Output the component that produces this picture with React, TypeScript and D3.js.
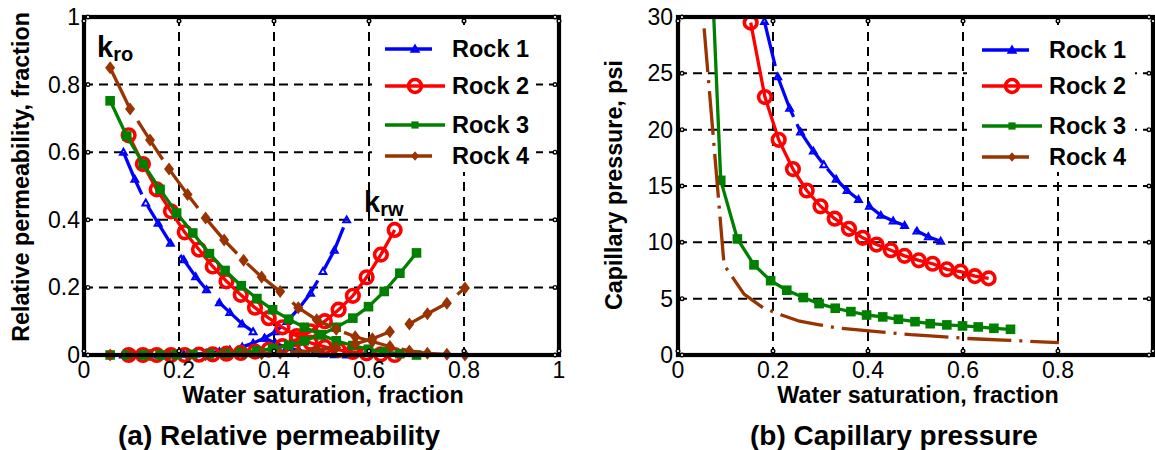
import React from 'react';
import * as d3 from 'd3';

// ---------- data ----------
// Rock 1 (blue)
const sw1 = [0.083, 0.107, 0.13, 0.156, 0.182, 0.21, 0.235, 0.258, 0.285, 0.307, 0.333, 0.356, 0.38, 0.403, 0.427, 0.453, 0.477, 0.503, 0.527, 0.553];
const kro1 = [0.6, 0.52, 0.45, 0.39, 0.331, 0.282, 0.232, 0.193, 0.155, 0.126, 0.092, 0.069, 0.05, 0.035, 0.022, 0.013, 0.007, 0.003, 0.001, 0];
const krw1 = [0, 0, 0, 0, 0.001, 0.002, 0.003, 0.005, 0.01, 0.015, 0.024, 0.035, 0.05, 0.069, 0.099, 0.139, 0.183, 0.247, 0.31, 0.4];
const pcSw1 = [0.182, 0.21, 0.235, 0.258, 0.285, 0.307, 0.333, 0.356, 0.38, 0.403, 0.427, 0.453, 0.477, 0.503, 0.527, 0.553];
const pc1 = [29.6, 24.7, 21.9, 19.8, 18.1, 16.9, 15.6, 14.6, 13.8, 13.2, 12.4, 11.9, 11.5, 11.0, 10.5, 10.1];

// Rock 2 (red)
const sw2 = [0.094, 0.124, 0.153, 0.183, 0.212, 0.242, 0.271, 0.3, 0.33, 0.36, 0.389, 0.418, 0.448, 0.477, 0.507, 0.536, 0.566, 0.595, 0.625, 0.654];
const kro2 = [0.65, 0.565, 0.49, 0.425, 0.363, 0.312, 0.262, 0.218, 0.178, 0.14, 0.109, 0.082, 0.056, 0.036, 0.024, 0.015, 0.009, 0.005, 0.002, 0];
const krw2 = [0, 0, 0, 0, 0, 0.001, 0.002, 0.004, 0.006, 0.01, 0.016, 0.026, 0.046, 0.07, 0.1, 0.134, 0.175, 0.23, 0.297, 0.37];
const pcSw2 = [0.153, 0.183, 0.212, 0.242, 0.271, 0.3, 0.33, 0.36, 0.389, 0.418, 0.448, 0.477, 0.507, 0.536, 0.566, 0.595, 0.625, 0.654];
const pc2 = [29.5, 22.9, 19.1, 16.5, 14.6, 13.2, 12.1, 11.2, 10.4, 9.8, 9.3, 8.8, 8.4, 8.1, 7.6, 7.4, 7.0, 6.8];

// Rock 3 (green)
const sw3 = [0.055, 0.09, 0.125, 0.16, 0.195, 0.229, 0.264, 0.297, 0.331, 0.364, 0.397, 0.431, 0.464, 0.499, 0.531, 0.566, 0.599, 0.632, 0.665, 0.7];
const kro3 = [0.752, 0.648, 0.565, 0.49, 0.42, 0.361, 0.3, 0.25, 0.205, 0.167, 0.134, 0.106, 0.082, 0.06, 0.042, 0.028, 0.017, 0.009, 0.004, 0];
const krw3 = [0, 0, 0, 0, 0.001, 0.002, 0.003, 0.005, 0.008, 0.012, 0.019, 0.029, 0.042, 0.06, 0.082, 0.109, 0.143, 0.188, 0.242, 0.302];
const pcSw3 = sw3;
const pc3 = [50, 15.5, 10.3, 8.0, 6.6, 5.75, 5.1, 4.56, 4.15, 3.85, 3.55, 3.38, 3.17, 2.96, 2.78, 2.67, 2.58, 2.49, 2.37, 2.28];

// Rock 4 (brown)
const sw4 = [0.055, 0.097, 0.139, 0.179, 0.218, 0.256, 0.295, 0.336, 0.374, 0.413, 0.451, 0.49, 0.531, 0.571, 0.607, 0.644, 0.685, 0.723, 0.764, 0.802];
const kro4 = [0.85, 0.728, 0.636, 0.55, 0.475, 0.405, 0.34, 0.28, 0.231, 0.188, 0.14, 0.104, 0.076, 0.054, 0.04, 0.025, 0.012, 0.005, 0.002, 0];
const krw4 = [0, 0, 0, 0, 0, 0.001, 0.002, 0.003, 0.004, 0.006, 0.009, 0.014, 0.022, 0.033, 0.048, 0.069, 0.092, 0.122, 0.153, 0.198];
const pcSw4 = sw4;
const pc4 = [29, 8.0, 5.4, 4.2, 3.55, 3.0, 2.7, 2.4, 2.25, 2.1, 1.95, 1.8, 1.7, 1.58, 1.47, 1.4, 1.32, 1.25, 1.17, 1.1];

const rockNames = ['Rock 1', 'Rock 2', 'Rock 3', 'Rock 4'];
const rockColors = ['#0000FF', '#FF0000', '#008000', '#993300'];

const xTicks = [0, 0.2, 0.4, 0.6, 0.8, 1];
const xTickLabels = ['0', '0.2', '0.4', '0.6', '0.8', '1'];
const xTickLabelsB = ['0', '0.2', '0.4', '0.6', '0.8'];
const krTicks = [0, 0.2, 0.4, 0.6, 0.8, 1];
const krTickLabels = ['0', '0.2', '0.4', '0.6', '0.8', '1'];
const pcTicks = [0, 5, 10, 15, 20, 25, 30];
const pcTickLabels = ['0', '5', '10', '15', '20', '25', '30'];

// ---------- layout ----------
const W = 1155;
const H = 450;
const A = { l: 84, r: 559, t: 17, b: 355 };
const B = { l: 678, r: 1153, t: 17, b: 355 };
const FONT = '"Liberation Sans", Arial, Helvetica, sans-serif';
const TICK_FS = 23;
const LABEL_FS = 23.3;
const TITLE_FS = 28;

const xA = d3.scaleLinear().domain([0, 1]).range([A.l, A.r]);
const yA = d3.scaleLinear().domain([0, 1]).range([A.b, A.t]);
const xB = d3.scaleLinear().domain([0, 1]).range([B.l, B.r]);
const yB = d3.scaleLinear().domain([0, 30]).range([B.b, B.t]);

type MarkerKind = 'tri' | 'circle' | 'square' | 'diamond' | 'none';

function Marker({ kind, x, y, color, big = true }: { kind: MarkerKind; x: number; y: number; color: string; big?: boolean }) {
  if (kind === 'tri') {
    const s = big ? 3.4 : 3.6;
    return <path d={`M${x},${y - s}L${x + s},${y + s * 0.75}L${x - s},${y + s * 0.75}Z`} fill={big ? 'none' : color} stroke={color} strokeWidth={2} />;
  }
  if (kind === 'circle') {
    const r = big ? 6.3 : 6.5;
    return <circle cx={x} cy={y} r={r} fill="none" stroke={color} strokeWidth={3.6} />;
  }
  if (kind === 'square') {
    const s = big ? 4.8 : 3.6;
    return <rect x={x - s} y={y - s} width={2 * s} height={2 * s} fill={color} />;
  }
  if (kind === 'diamond') {
    const h = big ? 6.5 : 4.8;
    const w = big ? 5 : 4;
    return <path d={`M${x},${y - h}L${x + w},${y}L${x},${y + h}L${x - w},${y}Z`} fill={color} />;
  }
  return null;
}

const markerKinds: MarkerKind[] = ['tri', 'circle', 'square', 'diamond'];

type Series = { sw: number[]; v: number[] };

function Curve({ s, x, y, color, dash, marker, clip, yMax }: {
  s: Series; x: d3.ScaleLinear<number, number>; y: d3.ScaleLinear<number, number>;
  color: string; dash?: string; marker: MarkerKind; clip?: string; yMax?: number;
}) {
  const pts = s.sw.map((w, i) => [w, s.v[i]] as [number, number]);
  const line = d3.line<[number, number]>().x((d) => x(d[0])).y((d) => y(d[1]));
  return (
    <g clipPath={clip}>
      <path d={line(pts) || ''} fill="none" stroke={color} strokeWidth={3.3} strokeDasharray={dash} strokeLinejoin="round" />
      {pts.filter((p) => yMax === undefined || p[1] <= yMax).map((p, i) => (
        <Marker key={i} kind={marker} x={x(p[0])} y={y(p[1])} color={color} />
      ))}
    </g>
  );
}

function Grid({ P, x, y, xt, yt }: { P: typeof A; x: any; y: any; xt: number[]; yt: number[] }) {
  return (
    <g>
      {xt.filter((t) => t > 0 && t < 1).map((t) => (
        <line key={'gx' + t} x1={x(t)} x2={x(t)} y1={P.t} y2={P.b} stroke="#000" strokeWidth={2} strokeDasharray="9,6" />
      ))}
      {yt.filter((t, i) => i > 0 && i < yt.length - 1).map((t) => (
        <line key={'gy' + t} x1={P.l} x2={P.r} y1={y(t)} y2={y(t)} stroke="#000" strokeWidth={2} strokeDasharray="9,6" />
      ))}
    </g>
  );
}

function FrameBox({ P, x, y, xt, yt }: { P: typeof A; x: any; y: any; xt: number[]; yt: number[] }) {
  return (
    <g>
      <rect x={P.l} y={P.t} width={P.r - P.l} height={P.b - P.t} fill="none" stroke="#000" strokeWidth={4.2} />
      {xt.map((t) => (
        <g key={'tx' + t}>
          <circle cx={x(t)} cy={P.b - 4} r={1.8} fill="#fff" stroke="#000" strokeWidth={1.4} />
          <circle cx={x(t)} cy={P.t + 4} r={1.8} fill="#fff" stroke="#000" strokeWidth={1.4} />
        </g>
      ))}
      {yt.map((t) => (
        <g key={'ty' + t}>
          <circle cx={P.l + 4} cy={y(t)} r={1.8} fill="#fff" stroke="#000" strokeWidth={1.4} />
          <circle cx={P.r - 4} cy={y(t)} r={1.8} fill="#fff" stroke="#000" strokeWidth={1.4} />
        </g>
      ))}
    </g>
  );
}

function Legend({ x0, box, rows }: { x0: number; box: { x: number; y: number; w: number; h: number }; rows: number[] }) {
  const lens = [47, 60, 60, 47];
  return (
    <g>
      <rect x={box.x} y={box.y} width={box.w} height={box.h} fill="#fff" />
      {rockNames.map((n, i) => (
        <g key={n}>
          <line x1={x0} x2={x0 + lens[i]} y1={rows[i]} y2={rows[i]} stroke={rockColors[i]} strokeWidth={3.3} />
          <Marker kind={markerKinds[i]} x={x0 + 30} y={rows[i]} color={rockColors[i]} big={false} />
          <text x={x0 + 67} y={rows[i] + 8} fontFamily={FONT} fontWeight="bold" fontSize={23.5} fill="#000">{n}</text>
        </g>
      ))}
    </g>
  );
}

export default function App() {
  const kroS: Series[] = [
    { sw: sw1, v: kro1 }, { sw: sw2, v: kro2 }, { sw: sw3, v: kro3 }, { sw: sw4, v: kro4 },
  ];
  const krwS: Series[] = [
    { sw: sw1, v: krw1 }, { sw: sw2, v: krw2 }, { sw: sw3, v: krw3 }, { sw: sw4, v: krw4 },
  ];
  const pcS: Series[] = [
    { sw: pcSw1, v: pc1 }, { sw: pcSw2, v: pc2 }, { sw: pcSw3, v: pc3 }, { sw: pcSw4, v: pc4 },
  ];
  const dashLeft = ['46,13', undefined, undefined, '46,14'];
  const dashRight = ['46,8', undefined, undefined, '44,8,3,8'];
  const rightMarkers: MarkerKind[] = ['tri', 'circle', 'square', 'none'];

  return (
    <svg width={W} height={H} style={{ position: 'absolute', left: 0, top: 0, background: '#fff' }} fontFamily={FONT}>
      <defs>
        <clipPath id="clipB">
          <rect x={B.l} y={B.t} width={B.r - B.l} height={B.b - B.t} />
        </clipPath>
      </defs>
      <rect x={0} y={0} width={W} height={H} fill="#fff" />

      {/* ---------- panel (a) ---------- */}
      <Grid P={A} x={xA} y={yA} xt={xTicks} yt={krTicks} />
      {[0, 1, 2, 3].map((i) => (
        <g key={'a' + i}>
          <Curve s={kroS[i]} x={xA} y={yA} color={rockColors[i]} dash={dashLeft[i]} marker={markerKinds[i]} />
          <Curve s={krwS[i]} x={xA} y={yA} color={rockColors[i]} dash={dashLeft[i]} marker={markerKinds[i]} />
        </g>
      ))}
      <Legend x0={385} box={{ x: 372, y: 25, w: 164, h: 147 }} rows={[49, 86, 125, 156]} />
      <FrameBox P={A} x={xA} y={yA} xt={xTicks} yt={krTicks} />
      {xTicks.map((t, i) => (
        <text key={'xla' + t} x={xA(t)} y={378} textAnchor="middle" fontSize={TICK_FS} fill="#000">{xTickLabels[i]}</text>
      ))}
      {krTicks.map((t, i) => (
        <text key={'yla' + t} x={80} y={yA(t) + 8} textAnchor="end" fontSize={TICK_FS} fill="#000">{krTickLabels[i]}</text>
      ))}
      <text x={97} y={57} fontSize={29} fontWeight="bold" fill="#000">k<tspan fontSize={20} dy={4}>ro</tspan></text>
      <text x={364} y={212} fontSize={29} fontWeight="bold" fill="#000">k<tspan fontSize={20} dy={4}>rw</tspan></text>
      <text x={323} y={403} textAnchor="middle" fontSize={LABEL_FS} fontWeight="bold" fill="#000">Water saturation, fraction</text>
      <text transform={`translate(29,177) rotate(-90)`} textAnchor="middle" fontSize={LABEL_FS} fontWeight="bold" fill="#000">Relative permeability, fraction</text>
      <text x={118} y={445} fontSize={TITLE_FS} fontWeight="bold" fill="#000">(a) Relative permeability</text>

      {/* ---------- panel (b) ---------- */}
      <Grid P={B} x={xB} y={yB} xt={xTicks} yt={pcTicks} />
      {[0, 1, 2, 3].map((i) => (
        <Curve key={'b' + i} s={pcS[i]} x={xB} y={yB} color={rockColors[i]} dash={dashRight[i]} marker={rightMarkers[i]} clip="url(#clipB)" yMax={30} />
      ))}
      <Legend x0={982} box={{ x: 967, y: 25, w: 168, h: 147 }} rows={[50, 86, 126, 157]} />
      <FrameBox P={B} x={xB} y={yB} xt={xTicks} yt={pcTicks} />
      {xTickLabelsB.map((lab, i) => (
        <text key={'xlb' + lab} x={xB(xTicks[i])} y={378} textAnchor="middle" fontSize={TICK_FS} fill="#000">{lab}</text>
      ))}
      {pcTicks.map((t, i) => (
        <text key={'ylb' + t} x={673} y={yB(t) + 8} textAnchor="end" fontSize={TICK_FS} fill="#000">{pcTickLabels[i]}</text>
      ))}
      <text x={918} y={403} textAnchor="middle" fontSize={LABEL_FS} fontWeight="bold" fill="#000">Water saturation, fraction</text>
      <text transform={`translate(622,185) rotate(-90)`} textAnchor="middle" fontSize={LABEL_FS} fontWeight="bold" fill="#000">Capillary pressure, psi</text>
      <text x={750} y={445} fontSize={TITLE_FS} fontWeight="bold" fill="#000">(b) Capillary pressure</text>
    </svg>
  );
}
